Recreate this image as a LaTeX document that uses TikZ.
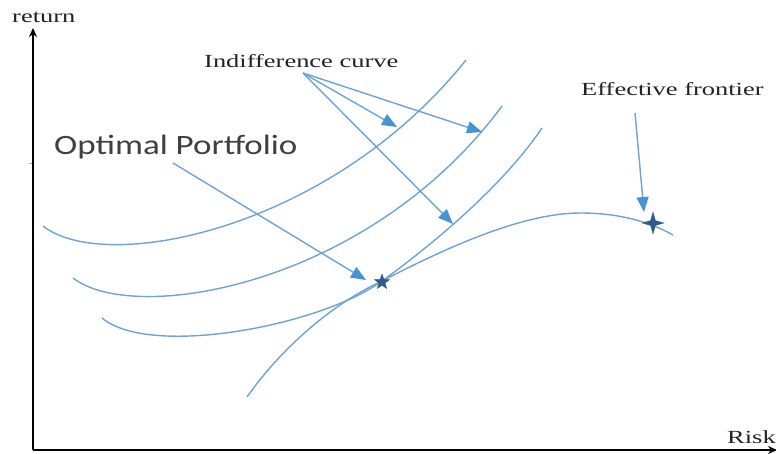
\documentclass[tikz,border=0pt]{standalone}
\usepackage{fontspec}
\setmainfont{Liberation Serif}
\newfontfamily\labelsans{Carlito}
\usetikzlibrary{arrows.meta,shapes.geometric}
\definecolor{curveblue}{RGB}{108,164,218}
\definecolor{headblue}{RGB}{72,146,214}
\definecolor{starblue}{RGB}{45,92,140}
\definecolor{inkgray}{RGB}{35,35,35}
\tikzset{
  axis/.style={line width=2.6pt,black,-{Stealth[length=9pt,width=8pt]}},
  curve/.style={curveblue,line width=1.4pt},
  pointer/.style={curveblue,line width=1.4pt,-{Triangle[length=15pt,width=12pt,fill=headblue,color=headblue]}},
  serlabel/.style={inkgray,font=\fontsize{18.5}{20}\selectfont,inner sep=0pt,anchor=base west},
  sanslabel/.style={black!75,font=\labelsans\fontsize{28}{30}\selectfont,inner sep=0pt,anchor=base west},
}
\begin{document}
\begin{tikzpicture}[x=1pt,y=-1pt]
\useasboundingbox (0,0) rectangle (776,453);
\fill[white] (0,0) rectangle (776,453);

% axes
\coordinate (origin) at (33,450);
\coordinate (ytop) at (33,28);
\coordinate (xend) at (777,450);
\draw[black!35,line width=0.8pt] (29,163) -- (33,163);
\draw[axis] (origin) -- (ytop);
\draw[axis] (origin) -- (xend);
\node[serlabel] (ret) at (12,22) {\scalebox{1.43}[1]{return}};
\node[serlabel] (risk) at (727,443) {\scalebox{1.43}[1]{Risk}};

% indifference curves
\draw[curve] (43,226) .. controls (105,275) and (330,230) .. (466,60);
\draw[curve] (73,278) .. controls (135,326) and (370,285) .. (502,106);
\draw[curve] (102,318) .. controls (150,358) and (320,326) .. (382,281)
                       .. controls (425,250) and (500,190) .. (542,128);

% efficient frontier
\draw[curve] (247,397) .. controls (280,350) and (330,305) .. (382,281)
                       .. controls (440,251) and (520,213) .. (580,213)
                       .. controls (620,213) and (650,222) .. (673,235);

% marked points
\node[star,star points=5,star point ratio=2.4,fill=starblue,draw=starblue,line width=0.3pt,minimum size=16pt,inner sep=0pt] (opt) at (382,282) {};
\node[star,star points=4,star point ratio=3.2,fill=starblue,draw=starblue,line width=0.3pt,minimum size=22pt,inner sep=0pt] (tip) at (653,223) {};

% labels
\node[serlabel] (ind) at (204,67) {\scalebox{1.43}[1]{Indifference curve}};
\node[serlabel] (eff) at (581,95) {\scalebox{1.43}[1]{Effective frontier}};
\node[sanslabel] (optlab) at (54,154) {\scalebox{1.25}[1]{Optimal Portfolio}};

% pointers
\coordinate (indsrc) at (303,73);
\coordinate (ia) at (397,127);
\coordinate (ib) at (482,132);
\coordinate (ic) at (453,224);
\coordinate (optsrc) at (173,163);
\coordinate (opttip) at (366,280);
\coordinate (effsrc) at (635,113);
\coordinate (efftip) at (644,212);
\draw[pointer] (indsrc) -- (ia);
\draw[pointer] (indsrc) -- (ib);
\draw[pointer] (indsrc) -- (ic);
\draw[pointer] (optsrc) -- (opttip);
\draw[pointer] (effsrc) -- (efftip);
\end{tikzpicture}
\end{document}
